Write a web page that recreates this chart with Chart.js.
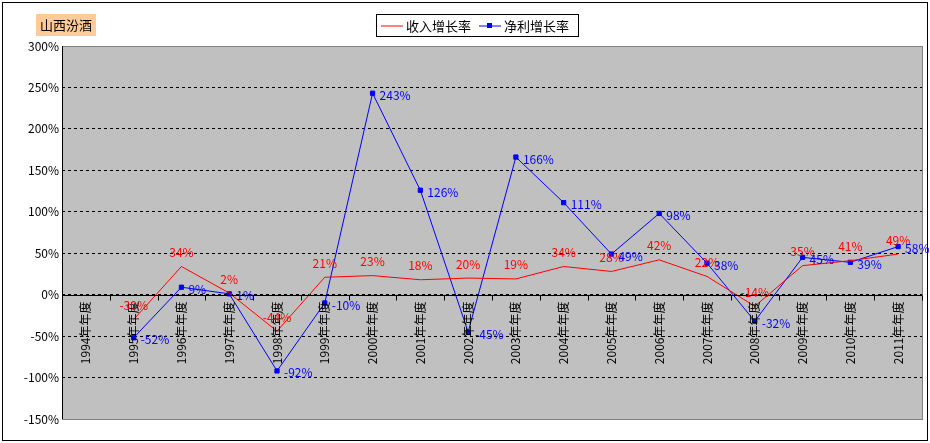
<!DOCTYPE html>
<html><head><meta charset="utf-8">
<script src="https://cdn.jsdelivr.net/npm/chart.js@4/dist/chart.umd.min.js"></script>
<style>body{margin:0;background:#fff}#w{position:relative;width:930px;height:443px}</style>
</head><body><div id="w"><canvas id="c" width="930" height="443"></canvas></div>
<script>
const categories=["1994年年度","1995年年度","1996年年度","1997年年度","1998年年度","1999年年度","2000年年度","2001年年度","2002年年度","2003年年度","2004年年度","2005年年度","2006年年度","2007年年度","2008年年度","2009年年度","2010年年度","2011年年度"];
const incomeGrowth=[null,-30,34,2,-44,21,23,18,20,19,34,28,42,22,-14,35,41,49];
const profitGrowth=[null,-52,9,1,-92,-10,243,126,-45,166,111,49,98,38,-32,45,39,58];
const yTicks={min:-150,max:300,step:50};
const F='"SimSun","Noto Sans CJK SC",sans-serif';
const deco={id:'deco',
 beforeDraw(ch){const {ctx,chartArea:a}=ch;ctx.save();ctx.fillStyle='#fff';ctx.fillRect(0,0,ch.width,ch.height);
  ctx.fillStyle='#C0C0C0';ctx.fillRect(a.left,a.top,a.right-a.left,a.bottom-a.top);
  ctx.strokeStyle='#000';ctx.lineWidth=1;ctx.strokeRect(2.5,2.5,ch.width-5,ch.height-5);ctx.restore();},
 afterDraw(ch){const {ctx,chartArea:a}=ch;const x=ch.scales.x,y=ch.scales.y;ctx.save();
  ctx.strokeStyle='#808080';ctx.strokeRect(a.left+0.5,a.top+0.5,a.right-a.left,a.bottom-a.top);
  ctx.strokeStyle='#000';ctx.beginPath();ctx.moveTo(a.left+0.5,a.top);ctx.lineTo(a.left+0.5,a.bottom);ctx.stroke();
  const y0=Math.round(y.getPixelForValue(0))+0.5;ctx.beginPath();ctx.moveTo(a.left,y0);ctx.lineTo(a.right,y0);ctx.stroke();
  for(let i=0;i<=categories.length;i++){const px=Math.round(a.left+(a.right-a.left)*i/categories.length)+0.5;ctx.beginPath();ctx.moveTo(px,y0);ctx.lineTo(px,y0+5);ctx.stroke();}
  ctx.font='12px '+F;ctx.fillStyle='#000';ctx.textAlign='right';ctx.textBaseline='middle';
  categories.forEach((c,i)=>{const px=x.getPixelForValue(i);ctx.save();ctx.translate(px,y0+6);ctx.rotate(-Math.PI/2);ctx.fillText(c,0,0);ctx.restore();});
  ctx.textBaseline='middle';
  incomeGrowth.forEach((v,i)=>{if(v==null)return;ctx.fillStyle='#FF0000';ctx.textAlign='center';ctx.fillText(v+'%',x.getPixelForValue(i),y.getPixelForValue(v)-14);});
  profitGrowth.forEach((v,i)=>{if(v==null)return;ctx.fillStyle='#0000FF';ctx.textAlign='left';ctx.fillText(v+'%',x.getPixelForValue(i)+7,y.getPixelForValue(v)+2);});
  ctx.fillStyle='#FFCC99';ctx.fillRect(36,14,60,22);ctx.fillStyle='#000';ctx.textAlign='left';ctx.font='13px '+F;ctx.fillText('山西汾酒',40,25);
  const lx=376,ly=14,lw=202,lh=22;ctx.fillStyle='#fff';ctx.fillRect(lx,ly,lw,lh);ctx.strokeStyle='#000';ctx.strokeRect(lx+0.5,ly+0.5,lw,lh);
  ctx.strokeStyle='#FF0000';ctx.beginPath();ctx.moveTo(lx+5,ly+12);ctx.lineTo(lx+27,ly+12);ctx.stroke();
  ctx.fillStyle='#000';ctx.fillText('收入增长率',lx+30,ly+12);
  ctx.strokeStyle='#0000FF';ctx.beginPath();ctx.moveTo(lx+103,ly+12);ctx.lineTo(lx+125,ly+12);ctx.stroke();
  ctx.fillStyle='#0000FF';ctx.fillRect(lx+111,ly+9,5,5);ctx.fillStyle='#000';ctx.fillText('净利增长率',lx+128,ly+12);
  ctx.restore();}
};
new Chart(document.getElementById('c'),{type:'line',
 data:{labels:categories,datasets:[
  {label:'收入增长率',data:incomeGrowth,borderColor:'#FF0000',borderWidth:1,pointRadius:0,tension:0},
  {label:'净利增长率',data:profitGrowth,borderColor:'#0000FF',backgroundColor:'#0000FF',borderWidth:1,pointStyle:'rect',pointRadius:3,tension:0}]},
 options:{responsive:false,animation:false,devicePixelRatio:1,
  layout:{padding:{top:46,right:8,left:0,bottom:16}},
  plugins:{legend:{display:false},tooltip:{enabled:false}},
  scales:{x:{offset:true,grid:{display:false},ticks:{display:false},border:{display:false}},
   y:{min:yTicks.min,max:yTicks.max,afterFit(s){s.width=62;},
    ticks:{stepSize:yTicks.step,color:'#000',font:{size:12,family:F},callback:v=>v+'%'},
    grid:{color:'#000',tickLength:4,drawTicks:false},border:{display:false,dash:[3,3]}
    }}},
 plugins:[deco]});
</script>
</body></html>
